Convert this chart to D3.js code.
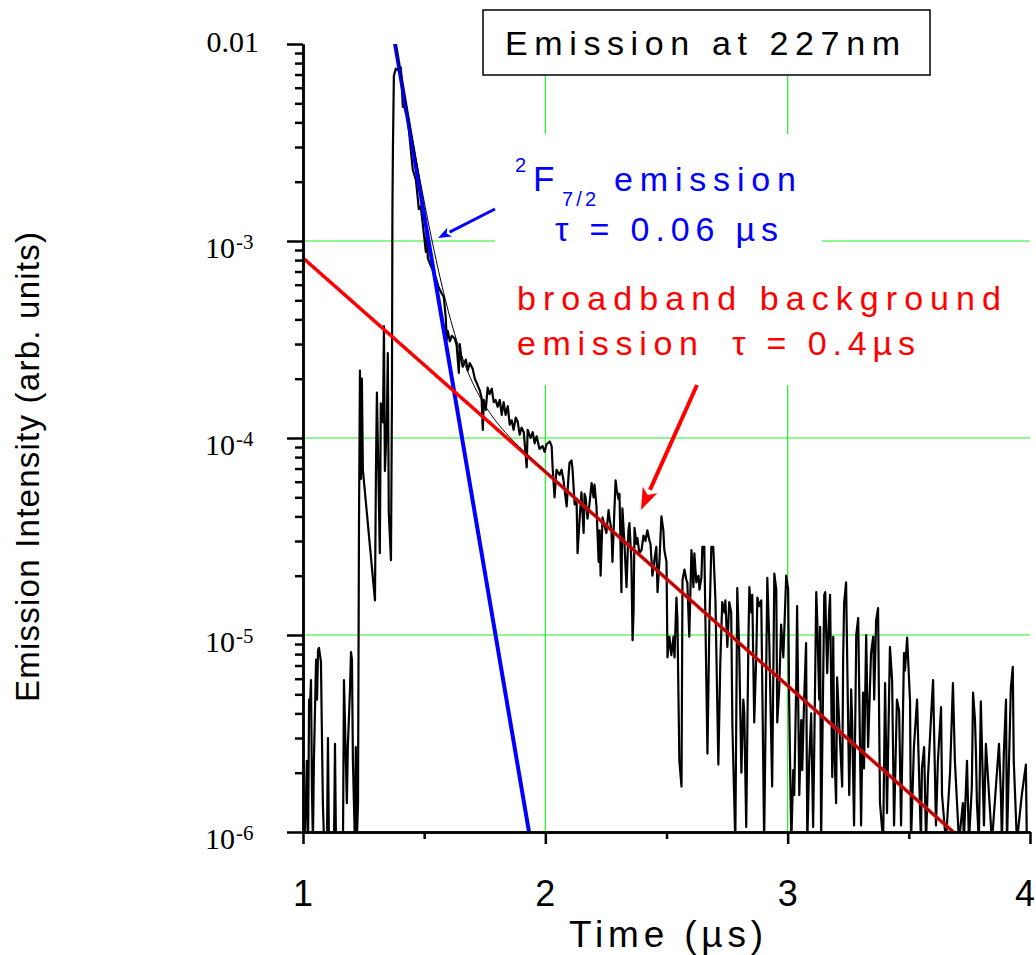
<!DOCTYPE html>
<html>
<head>
<meta charset="utf-8">
<script src="https://cdn.jsdelivr.net/npm/d3@7"></script>
<style>
  html, body { margin: 0; padding: 0; background: #fff; }
  svg { display: block; }
  text { font-family: "Liberation Sans", Arial, Helvetica, sans-serif; }
</style>
</head>
<body>
<svg id="chart" width="1036" height="955"></svg>
<script>
// Time-resolved emission trace (time in microseconds, intensity in arb. units; 0 = at or below floor)
const timeUs = [
  1.000,1.008,1.016,1.021,1.025,1.029,1.033,1.037,1.041,1.045,1.054,1.058,1.062,1.066,1.074,1.082,1.087,1.099,1.103,1.107,
  1.128,1.132,1.136,1.165,1.169,1.181,1.185,1.194,1.198,1.202,1.206,1.214,1.218,1.222,1.227,1.231,1.235,1.239,1.243,1.247,
  1.297,1.301,1.305,1.317,1.321,1.330,1.334,1.338,1.346,1.350,1.354,1.363,1.367,1.369,1.371,1.375,1.383,1.396,1.404,1.412,
  1.416,1.424,1.433,1.441,1.453,1.466,1.478,1.486,1.499,1.507,1.511,1.515,1.523,1.536,1.548,1.560,1.573,1.581,1.589,1.593,
  1.597,1.606,1.614,1.626,1.634,1.643,1.647,1.655,1.659,1.672,1.680,1.688,1.700,1.709,1.717,1.729,1.737,1.742,1.746,1.754,
  1.762,1.770,1.779,1.787,1.795,1.803,1.812,1.820,1.828,1.836,1.845,1.853,1.861,1.869,1.878,1.886,1.894,1.902,1.911,1.923,
  1.927,1.939,1.948,1.956,1.964,1.976,1.989,1.997,2.005,2.018,2.026,2.030,2.038,2.046,2.059,2.067,2.075,2.088,2.096,2.100,
  2.108,2.112,2.121,2.129,2.133,2.141,2.149,2.158,2.162,2.166,2.174,2.182,2.191,2.199,2.203,2.211,2.220,2.224,2.228,2.236,
  2.244,2.252,2.261,2.265,2.273,2.277,2.285,2.290,2.294,2.302,2.306,2.314,2.318,2.326,2.335,2.343,2.347,2.355,2.360,2.364,
  2.368,2.376,2.380,2.388,2.397,2.405,2.413,2.421,2.430,2.434,2.442,2.450,2.458,2.463,2.471,2.479,2.487,2.491,2.500,2.504,
  2.512,2.520,2.529,2.533,2.541,2.545,2.553,2.562,2.566,2.574,2.582,2.586,2.594,2.603,2.611,2.615,2.623,2.632,2.636,2.644,
  2.648,2.656,2.669,2.677,2.685,2.693,2.702,2.714,2.722,2.730,2.739,2.743,2.751,2.759,2.767,2.772,2.784,2.792,2.800,2.809,
  2.817,2.821,2.829,2.838,2.842,2.850,2.854,2.862,2.871,2.875,2.883,2.891,2.903,2.916,2.924,2.936,2.945,2.953,2.957,2.965,
  2.973,2.982,2.986,2.994,3.002,3.006,3.015,3.023,3.027,3.035,3.039,3.048,3.056,3.060,3.068,3.076,3.081,3.089,3.097,3.105,
  3.109,3.118,3.122,3.130,3.134,3.138,3.151,3.155,3.163,3.171,3.175,3.184,3.188,3.192,3.200,3.204,3.212,3.225,3.229,3.233,
  3.241,3.254,3.262,3.266,3.274,3.283,3.291,3.303,3.311,3.315,3.324,3.332,3.344,3.353,3.357,3.365,3.373,3.381,3.394,3.402,
  3.410,3.422,3.431,3.439,3.451,3.460,3.468,3.480,3.484,3.493,3.505,3.509,3.521,3.534,3.542,3.550,3.554,3.563,3.571,3.579,
  3.591,3.600,3.612,3.620,3.633,3.637,3.653,3.670,3.682,3.690,3.707,3.723,3.727,3.740,3.748,3.760,3.765,3.773,3.777,3.781,
  3.789,3.797,3.810,3.818,3.843,3.872,3.880,3.884,3.892,3.901,3.905,3.921,3.929,3.933,3.946,3.966,3.983,3.987,4.000
];
const intensity = [
  0,0,2.3e-6,0,4.7e-6,4.4e-6,5.9e-6,1.6e-6,0,2.3e-6,7.5e-6,4.7e-6,8.4e-6,8.6e-6,7.3e-6,1.4e-6,0,0,3.0e-6,0,
  0,2.8e-6,0,0,5.9e-6,1.4e-6,2.7e-6,5.3e-6,8.2e-6,7.5e-6,2.3e-6,0,2.7e-6,0,1.4e-6,3.6e-5,2.2e-4,6.2e-5,2.0e-4,6.9e-5,
  1.5e-5,6.9e-5,1.7e-4,2.6e-5,1.5e-4,1.2e-4,3.7e-4,6.8e-5,1.2e-4,2.7e-4,4.2e-5,2.4e-5,1.6e-4,1.45e-3,2.9e-3,6.9e-3,7.5e-3,7.3e-3,7.6e-3,4.8e-3,
  4.9e-3,4.5e-3,4.2e-3,3.25e-3,2.3e-3,2.04e-3,1.45e-3,1.5e-3,1.08e-3,8.8e-4,1.1e-3,8.2e-4,7.7e-4,7.1e-4,6.5e-4,5.8e-4,5.4e-4,5.2e-4,4.1e-4,3.15e-4,
  3.5e-4,3.1e-4,3.3e-4,3.2e-4,2.96e-4,2.14e-4,3.0e-4,2.45e-4,2.3e-4,2.5e-4,2.2e-4,2.4e-4,2.25e-4,2.0e-4,1.9e-4,1.75e-4,1.6e-4,1.1e-4,1.56e-4,1.39e-4,
  1.8e-4,1.67e-4,1.78e-4,1.52e-4,1.56e-4,1.44e-4,1.56e-4,1.31e-4,1.52e-4,1.31e-4,1.45e-4,1.17e-4,1.23e-4,1.1e-4,1.27e-4,1.21e-4,1.04e-4,1.13e-4,1.07e-4,7.1e-5,
  1.1e-4,1.0e-4,1.07e-4,9.4e-5,1.02e-4,8.8e-5,9.1e-5,8.5e-5,9.3e-5,9.6e-5,9.1e-5,7.1e-5,5.0e-5,6.9e-5,6.5e-5,6.9e-5,6.1e-5,4.5e-5,6.5e-5,7.5e-5,
  7.7e-5,7.0e-5,4.6e-5,4.8e-5,2.6e-5,3.8e-5,5.3e-5,3.3e-5,5.2e-5,5.0e-5,3.9e-5,4.6e-5,5.9e-5,5.0e-5,5.8e-5,4.5e-5,2.35e-5,3.4e-5,2.0e-5,3.95e-5,
  3.6e-5,3.3e-5,4.3e-5,3.9e-5,3.4e-5,2.35e-5,4.3e-5,6.1e-5,5.5e-5,4.9e-5,5.2e-5,1.65e-5,4.4e-5,3.0e-5,1.75e-5,3.4e-5,3.7e-5,2.4e-5,9.4e-6,1.3e-5,
  3.5e-5,2.9e-5,3.1e-5,2.6e-5,2.7e-5,3.2e-5,3.0e-5,3.4e-5,3.0e-5,2.9e-5,2.0e-5,2.4e-5,2.8e-5,1.65e-5,2.4e-5,4.0e-5,3.4e-5,2.7e-5,2.35e-5,7.7e-6,
  9.8e-6,7.9e-6,9.8e-6,7.7e-6,1.55e-5,1.2e-5,2.3e-6,1.7e-6,1.9e-5,2.15e-5,1.9e-5,1.85e-5,9.8e-6,2.7e-5,1.75e-5,2.6e-5,1.85e-5,2.0e-5,1.7e-5,1.95e-5,
  2.8e-5,2.8e-5,2.5e-6,1.15e-5,2.8e-5,2.8e-5,1.5e-5,2.2e-6,7.2e-6,1.47e-5,1.3e-5,1.5e-5,8.7e-6,1.47e-5,1.3e-5,3.4e-6,0,1.73e-5,8.4e-6,2.0e-6,
  4.7e-6,4.0e-6,1.06e-6,9.4e-6,1.75e-5,1.3e-5,1.6e-5,3.6e-6,8.4e-6,1.55e-5,1.4e-5,1.5e-5,0,1.95e-5,9.4e-6,1.7e-6,2.05e-5,1.7e-5,3.6e-6,5.3e-6,
  1.13e-5,7.7e-6,1.05e-5,2.0e-5,1.7e-5,4.7e-6,0,2.06e-6,1.54e-6,5.3e-6,1.4e-5,1.54e-6,3.7e-6,2.06e-6,4.7e-6,9.1e-6,0,2.3e-6,4.0e-6,1.06e-6,
  2.3e-6,1.65e-5,1.19e-5,4.7e-6,1.1e-5,0,1.6e-5,1.65e-5,6.4e-6,1.3e-5,1.6e-5,1.9e-6,9.8e-6,2.7e-6,1.4e-6,6.1e-6,3.7e-6,1.7e-6,7.7e-6,1.45e-5,
  1.85e-5,1.54e-6,5.3e-6,3.7e-6,1.08e-6,1.0e-5,1.22e-5,1.08e-6,5.1e-6,2.1e-6,1.0e-5,2.7e-6,8.1e-6,9.8e-6,4.7e-6,1.19e-5,1.37e-5,1.4e-6,0,5.7e-6,
  1.25e-6,8.7e-6,5.9e-6,1.08e-6,4.7e-6,4.1e-6,1.08e-6,8.1e-6,6.6e-6,9.7e-6,4.6e-6,0,2.7e-6,4.7e-6,2.0e-6,0,2.1e-6,2.7e-6,0,1.9e-6,
  3.7e-6,5.9e-6,1.08e-6,2.3e-6,4.3e-6,1.54e-6,0,2.0e-6,5.7e-6,2.3e-6,0,1.4e-6,0,2.3e-6,0,1.7e-6,5.1e-6,3.7e-6,2.5e-6,1.4e-6,
  0,4.6e-6,1.08e-6,2.8e-6,0,2.8e-6,1.54e-6,0,2.5e-6,4.7e-6,0,5.4e-6,6.9e-6,2.3e-6,0,1.54e-6,2.2e-6,0,0
];

// Single-exponential fits: I(t) = refValue * exp(-(t - refTime) / tau)
const fitNames    = ["2F7/2", "broadband"];
const fitTau      = [0.06, 0.4];      // µs
const fitRefTime  = [1.38, 1.0];      // µs
const fitRefValue = [1.0e-2, 8.2e-4];
const fitColors   = ["#0000ff", "#ff0000"];

// Axis ticks
const xMajorTicks = [1, 2, 3, 4];
const xMinorTicks = [1.5, 2.5, 3.5];
const yMajorTicks = [1e-2, 1e-3, 1e-4, 1e-5, 1e-6];
const yTickExponents = ["", "-3", "-4", "-5", "-6"];
const xGridValues = [2, 3];
const yGridValues = [1e-3, 1e-4, 1e-5];

const svg = d3.select("#chart");
const plot = { left: 303, right: 1030, top: 44, bottom: 832 };

const x = d3.scaleLinear().domain([1, 4]).range([plot.left, plot.right]);
const y = d3.scaleLog().domain([1e-6, 1e-2]).range([plot.bottom, plot.top]);

const yMinorTicks = [];
[1e-6, 1e-5, 1e-4, 1e-3].forEach(dec => {
  for (let k = 2; k <= 9; k++) yMinorTicks.push(dec * k);
});

svg.append("defs").append("clipPath").attr("id", "plotClip")
  .append("rect")
  .attr("x", plot.left).attr("y", plot.top)
  .attr("width", plot.right - plot.left).attr("height", plot.bottom - plot.top);

// Grid
const grid = svg.append("g").attr("stroke", "#22ee22").attr("stroke-width", 1.2);
grid.selectAll(".gx").data(xGridValues).join("line")
  .attr("x1", d => x(d)).attr("x2", d => x(d))
  .attr("y1", plot.top).attr("y2", plot.bottom);
grid.selectAll(".gy").data(yGridValues).join("line")
  .attr("x1", plot.left).attr("x2", plot.right)
  .attr("y1", d => y(d)).attr("y2", d => y(d));

// White backgrounds of the annotation boxes
svg.append("rect").attr("x", 495).attr("y", 134).attr("width", 327).attr("height", 132).attr("fill", "#fff");
svg.append("rect").attr("x", 508).attr("y", 266).attr("width", 505).attr("height", 119).attr("fill", "#fff");

const plotArea = svg.append("g").attr("clip-path", "url(#plotClip)");

// Measured trace
const trace = timeUs.map((t, i) => ({ t, v: intensity[i] }));
const traceLine = d3.line()
  .x(d => x(d.t))
  .y(d => d.v > 0 ? y(d.v) : plot.bottom + 10);
plotArea.append("path").datum(trace)
  .attr("d", traceLine)
  .attr("fill", "none").attr("stroke", "#000").attr("stroke-width", 2.2)
  .attr("stroke-linejoin", "round");

// Fit curves
const fitValue = (i, t) => fitRefValue[i] * Math.exp(-(t - fitRefTime[i]) / fitTau[i]);
const tGrid = d3.range(1, 4.0001, 0.005);
const fitLine = d3.line().x(d => x(d.t)).y(d => y(d.v));

[0, 1].forEach(i => {
  const pts = tGrid.map(t => ({ t, v: fitValue(i, t) }))
    .filter(d => d.v < 2e-2 && d.v > 5e-7);
  plotArea.append("path").datum(pts)
    .attr("d", fitLine)
    .attr("fill", "none").attr("stroke", fitColors[i])
    .attr("stroke-width", i === 0 ? 4 : 3.5);
});

// Combined two-exponential fit
const sumPts = tGrid.filter(t => t >= 1.375)
  .map(t => ({ t, v: fitValue(0, t) + fitValue(1, t) }))
  .filter(d => d.v > 5e-7);
plotArea.append("path").datum(sumPts)
  .attr("d", fitLine)
  .attr("fill", "none").attr("stroke", "#000").attr("stroke-width", 1);

// Axes
const axisG = svg.append("g");
axisG.append("g").attr("transform", `translate(${plot.left},0)`)
  .call(d3.axisLeft(y).tickValues(yMajorTicks).tickSize(16).tickSizeOuter(0).tickFormat(""));
axisG.append("g").attr("transform", `translate(${plot.left},0)`)
  .call(d3.axisLeft(y).tickValues(yMinorTicks).tickSize(8).tickSizeOuter(0).tickFormat(""));
axisG.append("g").attr("transform", `translate(0,${plot.bottom})`)
  .call(d3.axisBottom(x).tickValues(xMajorTicks).tickSize(12).tickSizeOuter(0).tickFormat(""));
axisG.append("g").attr("transform", `translate(0,${plot.bottom})`)
  .call(d3.axisBottom(x).tickValues(xMinorTicks).tickSize(7).tickSizeOuter(0).tickFormat(""));
axisG.selectAll("path.domain").attr("stroke", "#000").attr("stroke-width", 2.5);
axisG.selectAll(".tick line").attr("stroke", "#000").attr("stroke-width", 2.5);

// Y tick labels (serif, powers of ten)
const serif = "'Liberation Serif', 'Times New Roman', serif";
const yLab = svg.append("g").attr("fill", "#000");
yMajorTicks.forEach((v, i) => {
  const ty = y(v);
  if (yTickExponents[i] === "") {
    yLab.append("text").attr("x", 259).attr("y", ty + 8)
      .attr("text-anchor", "end").attr("font-size", 30)
      .style("font-family", serif)
      .text("0.01");
  } else {
    yLab.append("text").attr("x", 205).attr("y", ty + 17)
      .attr("font-size", 30)
      .style("font-family", serif)
      .text("10");
    yLab.append("text").attr("x", 236).attr("y", ty + 8)
      .attr("font-size", 21)
      .style("font-family", serif)
      .text(yTickExponents[i]);
  }
});

// X tick labels
svg.append("g").selectAll("text").data(xMajorTicks).join("text")
  .attr("x", d => d === 4 ? x(d) - 5 : x(d)).attr("y", 906)
  .attr("text-anchor", "middle").attr("font-size", 36)
  .text(d => d);

// Axis titles
svg.append("text").attr("x", 569).attr("y", 947)
  .attr("font-size", 37).attr("textLength", 194).attr("lengthAdjust", "spacing")
  .text("Time (µs)");
svg.append("text")
  .attr("transform", "translate(39,467) rotate(-90)")
  .attr("text-anchor", "middle").attr("font-size", 33)
  .attr("textLength", 470).attr("lengthAdjust", "spacing")
  .text("Emission Intensity (arb. units)");

// Title box
svg.append("rect").attr("x", 483).attr("y", 10).attr("width", 447).attr("height", 65)
  .attr("fill", "#fff").attr("stroke", "#000").attr("stroke-width", 1.5);
svg.append("text").attr("x", 505).attr("y", 55)
  .attr("font-size", 34).attr("textLength", 395).attr("lengthAdjust", "spacing")
  .text("Emission at 227nm");

// Blue annotation
const blue = svg.append("g").attr("fill", fitColors[0]);
blue.append("text").attr("x", 515).attr("y", 172).attr("font-size", 20).text("2");
blue.append("text").attr("x", 533).attr("y", 191).attr("font-size", 35).text("F");
blue.append("text").attr("x", 562).attr("y", 206).attr("font-size", 20)
  .attr("textLength", 34).attr("lengthAdjust", "spacing").text("7/2");
blue.append("text").attr("x", 614).attr("y", 191).attr("font-size", 34)
  .attr("textLength", 182).attr("lengthAdjust", "spacing").text("emission");
blue.append("text").attr("x", 555).attr("y", 241).attr("font-size", 34)
  .attr("textLength", 223).attr("lengthAdjust", "spacing").text("τ = 0.06 µs");

// Red annotation
const red = svg.append("g").attr("fill", fitColors[1]);
red.append("text").attr("x", 517).attr("y", 310).attr("font-size", 34)
  .attr("textLength", 484).attr("lengthAdjust", "spacing").text("broadband background");
red.append("text").attr("x", 517).attr("y", 355).attr("font-size", 34)
  .attr("textLength", 181).attr("lengthAdjust", "spacing").text("emission");
red.append("text").attr("x", 732).attr("y", 355).attr("font-size", 34)
  .attr("textLength", 183).attr("lengthAdjust", "spacing").text("τ = 0.4µs");

// Arrows
function arrow(x1, y1, x2, y2, color, width, headLen, headHalf) {
  const ang = Math.atan2(y2 - y1, x2 - x1);
  const bx = x2 - headLen * Math.cos(ang), by = y2 - headLen * Math.sin(ang);
  svg.append("line").attr("x1", x1).attr("y1", y1).attr("x2", bx).attr("y2", by)
    .attr("stroke", color).attr("stroke-width", width);
  const px = -Math.sin(ang), py = Math.cos(ang);
  svg.append("path")
    .attr("d", `M${x2},${y2} L${bx + px * headHalf},${by + py * headHalf} L${bx + (x2 - bx) * 0.25},${by + (y2 - by) * 0.25} L${bx - px * headHalf},${by - py * headHalf} Z`)
    .attr("fill", color);
}
arrow(495, 209, 438, 238, fitColors[0], 3, 13, 5);
arrow(697, 385, 641, 510, fitColors[1], 4, 22, 8);
</script>
</body>
</html>
